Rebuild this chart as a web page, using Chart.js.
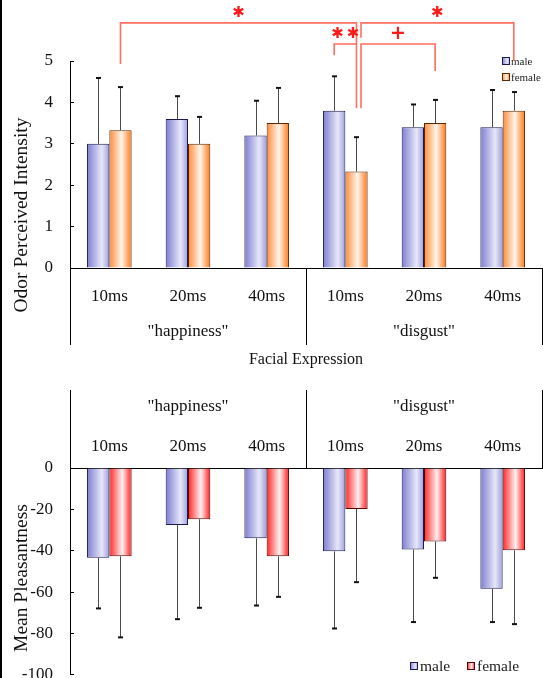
<!DOCTYPE html>
<html><head><meta charset="utf-8">
<script src="https://cdn.jsdelivr.net/npm/chart.js@4.4.0/dist/chart.umd.min.js"></script>
<style>
html,body{margin:0;padding:0;background:#fff;width:543px;height:678px;overflow:hidden;position:relative}
#c1{position:absolute;left:0;top:0}
#c2{position:absolute;left:0;top:385px}
#edge{position:absolute;left:0;top:0;width:2px;height:678px;background:#000}
</style></head><body>
<canvas id="c1" width="543" height="385"></canvas>
<canvas id="c2" width="543" height="321"></canvas>
<div id="edge"></div>
<script>
// ---------- data ----------
const durations = ['10ms','20ms','40ms','10ms','20ms','40ms'];
const expressions = ['"happiness"','"disgust"'];
const seriesNames = ['male','female'];
const intensityMale   = [3.0, 3.6, 3.2, 3.8, 3.4, 3.4];
const intensityFemale = [3.33, 3.0, 3.5, 2.33, 3.5, 3.8];
const intensityMaleSD   = [1.59, 0.55, 0.84, 0.83, 0.55, 0.90];
const intensityFemaleSD = [1.04, 0.65, 0.85, 0.83, 0.56, 0.45];
const pleasMale   = [-43.4, -27.6, -34.0, -40.3, -39.4, -58.4];
const pleasFemale = [-42.7, -24.8, -42.7, -19.8, -35.5, -39.8];
const pleasMaleSD   = [24.5, 45.5, 32.5, 37.3, 35.1, 16.1];
const pleasFemaleSD = [39.2, 42.8, 19.6, 35.4, 17.6, 35.7];
const intensityRange = [0, 5, 1];
const pleasRange = [-100, 0, 20];
// significance brackets: [category, series] endpoints, bracket level, foot ends (data units)
const significance = [
  {label:'✱', from:[0,1], to:[3,1], level:5.92, footFrom:4.93, footTo:3.86},
  {label:'✱\u2009✱', from:[3,0], to:[3,1], level:5.41, footFrom:5.14, footTo:null},
  {label:'+', from:[3,1], to:[4,1], level:5.41, footFrom:3.86, footTo:4.76, shiftFrom:4.5},
  {label:'✱', from:[3,1], to:[5,1], level:5.92, footFrom:5.56, footTo:5.0, shiftFrom:4.5}
];

// ---------- styles ----------
const F = '"Liberation Serif", "Times New Roman", serif';
const CAT_PCT = 0.567;
const maleStops   = [[0,'#7c7cd2'],[0.66,'#e7e7f8'],[1,'#9e9ee0']];
const orangeStops = [[0,'#ff8a36'],[0.55,'#fff5ec'],[1,'#ff7812']];
const redStops    = [[0,'#ff2626'],[0.58,'#fff1f1'],[1,'#ff1c1c']];

function makeGrad(c, x0, x1, stops){
  const g = c.createLinearGradient(x0,0,x1,0);
  stops.forEach(s=>g.addColorStop(s[0], s[1]));
  return g;
}
function barFill(stops, fallback){
  return (ctx)=>{
    const chart = ctx.chart, xs = chart.scales.x;
    if (!xs || ctx.dataIndex === undefined || !chart.chartArea) return fallback;
    const cx = xs.getPixelForValue(ctx.dataIndex);
    const catW = xs.getPixelForValue(0.5) - xs.getPixelForValue(-0.5);
    const bw = catW*CAT_PCT/2;
    const x0 = cx - catW*CAT_PCT/2 + ctx.datasetIndex*bw;
    return makeGrad(chart.ctx, x0, x0+bw, stops);
  };
}

const errorBars = {
  id:'errorBars',
  afterDatasetsDraw(chart){
    const c = chart.ctx, ys = chart.scales.y;
    chart.data.datasets.forEach((ds, di)=>{
      const meta = chart.getDatasetMeta(di);
      meta.data.forEach((el, i)=>{
        const v = ds.data[i], sd = ds.sd[i];
        const end = v + (v < 0 ? -sd : sd);
        const y1 = ys.getPixelForValue(end);
        const x = Math.round(el.x) + 0.5;
        c.save();
        c.strokeStyle = '#4a4a4a'; c.lineWidth = 1;
        c.beginPath(); c.moveTo(x, el.y); c.lineTo(x, y1); c.stroke();
        c.strokeStyle = '#111'; c.lineWidth = 2;
        c.beginPath(); c.moveTo(x-2.5, y1); c.lineTo(x+2.5, y1); c.stroke();
        c.restore();
      });
    });
  }
};

const decor = {
  id:'decor',
  afterDraw(chart, args, o){
    const c = chart.ctx, xs = chart.scales.x, ys = chart.scales.y;
    const per = durations.length / expressions.length;
    c.save();
    // separators
    c.strokeStyle = '#000'; c.lineWidth = 1;
    for (let k = 0; k <= expressions.length; k++){
      const x = Math.round(xs.getPixelForValue(k*per - 0.5)) + 0.5;
      c.beginPath(); c.moveTo(x, o.sepTop); c.lineTo(x, o.sepBottom); c.stroke();
    }
    // group labels
    c.fillStyle = '#111'; c.textAlign = 'center'; c.textBaseline = 'middle';
    c.font = '17px ' + F;
    expressions.forEach((g,k)=>{
      c.fillText(g, xs.getPixelForValue(k*per + (per-1)/2), o.groupY);
    });
    if (o.xTitle){
      c.font = '16px ' + F;
      c.fillText(o.xTitle, (xs.left + xs.right)/2, o.xTitleY);
    }
    // y title
    c.save();
    c.translate(o.yTitleX, o.yTitleY); c.rotate(-Math.PI/2);
    c.font = '19.5px ' + F;
    c.fillText(o.yTitle, 0, 0);
    c.restore();
    // legend
    const L = o.legend;
    chart.data.datasets.forEach((ds, di)=>{
      const x = L.x[di], y = L.y[di];
      const s = L.box;
      c.fillStyle = makeGrad(c, x, x+s, ds.stops);
      c.fillRect(x, y - s/2, s, s);
      c.strokeStyle = ds.borderColor; c.lineWidth = 1;
      c.strokeRect(x+0.5, y - s/2 + 0.5, s-1, s-1);
      c.fillStyle = '#222'; c.textAlign = 'left'; c.textBaseline = 'middle';
      c.font = L.size + 'px ' + F;
      c.fillText(ds.label, x + s + L.gap, y + 1);
    });
    // significance
    if (o.sig){
      c.strokeStyle = '#ff6f5e'; c.lineWidth = 1.6;
      o.sig.forEach(b=>{
        const x1 = chart.getDatasetMeta(b.from[1]).data[b.from[0]].x + (b.shiftFrom||0);
        const x2 = chart.getDatasetMeta(b.to[1]).data[b.to[0]].x;
        const yl = ys.getPixelForValue(b.level);
        const y1 = b.footFrom!=null ? ys.getPixelForValue(b.footFrom) : yl;
        const y2 = b.footTo!=null ? ys.getPixelForValue(b.footTo) : yl;
        c.beginPath(); c.moveTo(x1, y1); c.lineTo(x1, yl); c.lineTo(x2, yl); c.lineTo(x2, y2); c.stroke();
        c.fillStyle = '#ff1a1a'; c.textAlign = 'center'; c.textBaseline = 'middle';
        c.font = (b.label === '+' ? 'bold 19px ' : 'bold 15px ') + '"DejaVu Sans", sans-serif';
        c.fillText(b.label, (x1+x2)/2, yl - 10);
      });
    }
    c.restore();
  }
};

function yTicks(range){
  return {
    min: range[0], max: range[1],
    ticks:{stepSize: range[2], color:'#111', font:{family:F, size:17}, padding:21},
    grid:{drawOnChartArea:false, drawTicks:true, tickLength:-4, color:'#000'},
    border:{display:true, color:'#000', width:1},
    afterFit: s => { s.width = 70; }
  };
}

// ---------- top chart ----------
new Chart(document.getElementById('c1'), {
  type:'bar',
  data:{ labels: durations, datasets:[
    {label:seriesNames[0], data:intensityMale, sd:intensityMaleSD, stops:maleStops,
     backgroundColor:barFill(maleStops,'#aaaae6'), borderColor:'#1a1a4e', borderWidth:1,
     categoryPercentage:CAT_PCT, barPercentage:1},
    {label:seriesNames[1], data:intensityFemale, sd:intensityFemaleSD, stops:orangeStops,
     backgroundColor:barFill(orangeStops,'#ffb070'), borderColor:'#5a2800', borderWidth:1,
     categoryPercentage:CAT_PCT, barPercentage:1}
  ]},
  options:{
    responsive:false, animation:false, devicePixelRatio:1,
    layout:{padding:{top:61, right:1, left:0, bottom:0}},
    plugins:{legend:{display:false}, tooltip:{enabled:false},
      decor:{sepTop:268, sepBottom:345, groupY:332, xTitle:'Facial Expression', xTitleY:360,
             yTitle:'Odor Perceived Intensity', yTitleX:22, yTitleY:215,
             legend:{x:[502,502], y:[61,77], box:8, gap:1, size:11}, sig:significance}},
    scales:{
      x:{ offset:true, grid:{display:false}, border:{display:true, color:'#000', width:1},
          ticks:{color:'#111', font:{family:F, size:17}, padding:10, maxRotation:0, autoSkip:false},
          afterFit: s => { s.height = 117; } },
      y: yTicks(intensityRange)
    }
  },
  plugins:[errorBars, decor]
});

// ---------- bottom chart ----------
new Chart(document.getElementById('c2'), {
  type:'bar',
  data:{ labels: durations, datasets:[
    {label:seriesNames[0], data:pleasMale, sd:pleasMaleSD, stops:maleStops,
     backgroundColor:barFill(maleStops,'#aaaae6'), borderColor:'#1a1a4e', borderWidth:1,
     categoryPercentage:CAT_PCT, barPercentage:1},
    {label:seriesNames[1], data:pleasFemale, sd:pleasFemaleSD, stops:redStops,
     backgroundColor:barFill(redStops,'#ff8080'), borderColor:'#5a0000', borderWidth:1,
     categoryPercentage:CAT_PCT, barPercentage:1}
  ]},
  options:{
    responsive:false, animation:false, devicePixelRatio:1,
    layout:{padding:{top:0, right:1, left:0, bottom:3}},
    plugins:{legend:{display:false}, tooltip:{enabled:false},
      decor:{sepTop:5, sepBottom:83, groupY:22,
             yTitle:'Mean Pleasantness', yTitleX:22, yTitleY:193,
             legend:{x:[410,467], y:[281,281], box:8, gap:2, size:15.5}}},
    scales:{
      x:{ position:'top', offset:true, grid:{display:false}, border:{display:true, color:'#000', width:1},
          ticks:{color:'#111', font:{family:F, size:17}, padding:3, maxRotation:0, autoSkip:false},
          afterFit: s => { s.height = 83; } },
      y: yTicks(pleasRange)
    }
  },
  plugins:[errorBars, decor]
});
</script>
</body></html>
